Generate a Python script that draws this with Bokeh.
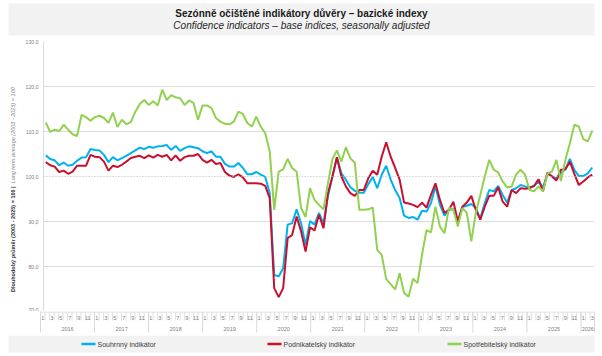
import math
from bokeh.plotting import figure
from bokeh.models import FixedTicker, Span, Range1d, ColumnDataSource
from bokeh.layouts import column, row
from bokeh.core.properties import value
from bokeh.embed import file_html
from bokeh.resources import INLINE

FONT = "Liberation Sans"

# ---------------- data ----------------
years = ["2016", "2017", "2018", "2019", "2020", "2021", "2022", "2023",
         "2024", "2025", "2026"]
month_labels = ["1", "2", "3", "4", "5", "6", "7", "8", "9", "10", "11", "12"]

souhrnny = [
    104.7, 103.9, 103.6, 102.5, 103.1, 102.4, 102.6, 103.5, 104.2, 104.3, 106.1, 105.9,
    105.8, 104.8, 103.2, 104.3, 103.6, 104.1, 104.6, 105.2, 105.8, 106.4, 106.1, 106.6,
    106.4, 106.7, 106.8, 107.0, 105.9, 106.8, 105.7, 106.3, 106.7, 106.5, 106.3, 105.6,
    105.2, 105.6, 104.4, 104.4, 102.8, 102.2, 102.2, 103.0, 101.9, 100.5, 100.5, 101.0,
    100.4, 99.9, 96.3, 78.1, 77.8, 79.6, 89.3, 89.6, 92.7, 89.6, 84.8, 90.1,
    89.3, 91.9, 89.5, 95.6, 100.0, 104.3, 100.7, 99.3, 97.6, 96.8, 96.4, 96.4,
    98.3, 99.9, 97.4, 100.4, 102.4, 99.3, 97.0, 95.2, 91.3, 90.8, 91.0, 90.4,
    92.4, 92.2, 94.1, 97.8, 93.7, 91.3, 92.6, 92.7, 90.0, 93.2, 93.5, 93.9,
    93.0, 90.7, 94.1, 97.0, 96.7, 97.9, 95.9, 94.2, 97.0, 97.4, 98.1, 97.8,
    97.6, 97.9, 98.9, 97.6, 100.6, 100.1, 99.6, 100.7, 101.6, 103.9, 101.5, 100.1,
    100.1, 100.7, 102.0,
]
podnikatelsky = [
    103.2, 102.5, 102.2, 101.0, 101.3, 100.6, 101.1, 102.4, 102.4, 102.4, 104.8, 104.4,
    104.3, 103.3, 101.3, 102.4, 102.1, 102.6, 103.3, 104.1, 104.4, 104.6, 104.1, 104.7,
    104.2, 104.8, 104.4, 104.8, 103.6, 104.7, 103.5, 104.3, 104.6, 104.6, 105.0, 103.7,
    103.1, 103.7, 102.8, 103.0, 101.0, 100.2, 99.9, 100.5, 99.8, 98.5, 98.5, 98.5,
    98.4, 97.9, 95.2, 75.2, 73.2, 75.2, 86.3, 87.0, 91.1, 87.8, 83.3, 88.7,
    88.0, 91.5, 88.5, 96.3, 100.0, 104.3, 100.0, 97.8, 96.3, 95.7, 97.0, 97.0,
    99.6, 101.3, 100.4, 104.4, 107.6, 104.4, 101.9, 99.3, 94.2, 94.0, 93.7, 93.2,
    94.2, 93.1, 95.9, 98.5, 94.8, 91.9, 92.6, 94.4, 90.0, 93.3, 94.2, 95.7,
    92.6, 90.4, 93.3, 95.7, 95.7, 97.6, 94.4, 93.3, 97.0, 96.3, 97.4, 97.3,
    97.4, 97.9, 99.4, 96.7, 100.9, 100.0, 99.1, 101.5, 101.6, 103.3, 100.6, 98.1,
    98.9, 99.8, 100.4,
]
spotrebitelsky = [
    112.0, 109.9, 110.4, 110.1, 111.5, 110.4, 109.4, 109.0, 113.7, 113.2, 112.4, 113.2,
    113.5, 113.0, 111.9, 114.2, 111.0, 112.6, 111.6, 112.1, 114.4, 116.1, 117.0, 115.9,
    116.7, 115.8, 119.3, 117.0, 118.1, 117.6, 117.4, 115.9, 116.9, 116.3, 112.6, 115.8,
    115.8, 115.2, 113.0, 112.2, 111.7, 111.6, 112.2, 114.4, 113.9, 111.9, 111.1, 113.3,
    111.1, 109.6, 105.6, 92.6, 101.1, 101.6, 103.9, 101.9, 101.1, 93.0, 91.0, 97.4,
    94.8, 93.7, 92.7, 98.5, 103.9, 105.8, 103.3, 106.5, 104.1, 103.0, 92.6, 92.6,
    92.7, 93.1, 83.7, 82.6, 77.2, 76.1, 74.9, 78.5, 74.1, 73.3, 77.3, 76.3,
    82.6, 88.1, 87.6, 93.3, 88.9, 87.4, 93.0, 92.6, 88.9, 93.0, 91.9, 85.6,
    91.9, 95.9, 100.0, 103.7, 101.5, 100.9, 98.9, 97.6, 97.8, 100.4, 101.5, 100.4,
    97.0, 96.7, 97.8, 96.7, 100.7, 101.1, 103.7, 99.0, 103.7, 107.4, 111.5, 111.1,
    108.3, 107.8, 110.2,
]
series_names = ["Souhrnný indikátor", "Podnikatelský indikátor", "Spotřebitelský indikátor"]
series_colors = ["#00b0f0", "#c8102e", "#92d050"]
y_ticks = [70, 80, 90, 100, 110, 120, 130]
y_title_main = "Dlouhodobý průměr (2003 - 2025) = 100 |"
y_title_en = "Long term average (2003 - 2025) = 100"

n = len(souhrnny)
idx = list(range(n))
src = ColumnDataSource(dict(x=idx, s=souhrnny, p=podnikatelsky, c=spotrebitelsky))

W = 602
FRAME_L, FRAME_R = 40, 594          # page x of plot frame
TOP_H = 37                          # header height
FRAME_T, FRAME_B = 41, 311          # page y of plot frame
PXM = (FRAME_R - FRAME_L) / n       # pixels per month
XAX_H = 24                          # x-label strip height
LEG_H = 356 - FRAME_B - XAX_H


def bare(width, height, xr, yr):
    f = figure(width=width, height=height, x_range=xr, y_range=yr,
               x_axis_type=None, y_axis_type=None, min_border=0,
               outline_line_color=None, output_backend="svg", toolbar_location=None)
    return f


# ---------------- header ----------------
hdr = bare(W, TOP_H, Range1d(0, W), Range1d(TOP_H, 0))
hdr.quad(left=8, right=594, top=3, bottom=35, fill_color="#f2f2f2", line_color=None)
hdr.text(x=[301], y=[12.5], text=["Sezónně očištěné indikátory důvěry – bazické indexy"],
         text_font=value(FONT), text_font_size="10px", text_font_style="bold",
         text_align="center", text_baseline="middle", text_color="#1a1a1a")
hdr.text(x=[301], y=[24.5], text=["Confidence indicators – base indices, seasonally adjusted"],
         text_font=value(FONT), text_font_size="10px", text_font_style="italic",
         text_align="center", text_baseline="middle", text_color="#262626")

# ---------------- y title strip ----------------
YT_W = 22
ph = FRAME_B - TOP_H
ytf = bare(YT_W, ph, Range1d(0, YT_W), Range1d(0, ph))
split = FRAME_B - 182   # strip coords (0 = frame bottom)
ytf.text(x=[12], y=[split - 2], text=[y_title_main], angle=math.pi / 2,
         text_font=value(FONT), text_font_size="5.5px", text_font_style="bold",
         text_align="right", text_baseline="middle", text_color="#333333")
ytf.text(x=[12], y=[split + 1], text=[y_title_en], angle=math.pi / 2,
         text_font=value(FONT), text_font_size="5.5px", text_font_style="italic",
         text_align="left", text_baseline="middle", text_color="#808080")

# ---------------- main plot ----------------
xr = Range1d(-0.5, n - 0.5)
p = figure(width=W - YT_W, height=ph, x_range=xr, y_range=Range1d(70, 130),
           x_axis_type=None, min_border_left=FRAME_L - YT_W, min_border_right=W - FRAME_R,
           min_border_top=FRAME_T - TOP_H, min_border_bottom=0, outline_line_color=None,
           output_backend="svg", toolbar_location=None)

yax = p.yaxis[0]
yax.ticker = FixedTicker(ticks=y_ticks)
yax.major_label_overrides = {t: f"{t:.1f}".replace(".", ",") for t in y_ticks}
yax.axis_line_color = "#d9d9d9"
yax.major_tick_out = 0
yax.major_tick_in = 0
yax.minor_tick_out = 0
yax.minor_tick_in = 0
yax.major_label_standoff = 5
yax.major_label_text_font = FONT
yax.major_label_text_font_size = "5.2px"
yax.major_label_text_color = "#808080"

p.ygrid.ticker = FixedTicker(ticks=[t for t in y_ticks if t not in (70, 100)])
p.ygrid.grid_line_color = "#dcdcdc"
p.ygrid.grid_line_width = 1
p.add_layout(Span(location=100, dimension="width", line_color="#bdbdbd",
                  line_dash="1 2", line_width=1))

for col, color in zip(["s", "p", "c"], series_colors):
    p.line(x="x", y=col, source=src, line_color=color, line_width=2)

# ---------------- x label strip (same month scale as the plot) ----------------
xs_range = Range1d(-0.5 - FRAME_L / PXM, -0.5 + (W - FRAME_L) / PXM)
xa = bare(W, XAX_H, xs_range, Range1d(XAX_H, 0))
xa.segment(x0=[-0.5], x1=[n - 0.5], y0=[0.5], y1=[0.5], line_color="#d9d9d9", line_width=1)
bounds = [i - 0.5 for i in range(n + 1)]
xa.segment(x0=bounds, x1=bounds, y0=[0] * len(bounds), y1=[9] * len(bounds),
           line_color="#e0e0e0", line_width=1)
odd = [i for i in idx if i % 2 == 0]
xa.text(x=odd, y=[6] * len(odd), text=[month_labels[i % 12] for i in odd],
        text_font=value(FONT), text_font_size="5.5px", text_align="center",
        text_baseline="middle", text_color="#808080")
year_bounds = [12 * k - 0.5 for k in range(len(years))] + [n - 0.5]
year_centers = [(a + b) / 2 for a, b in zip(year_bounds[:-1], year_bounds[1:])]
xa.segment(x0=year_bounds, x1=year_bounds, y0=[0] * len(year_bounds),
           y1=[21] * len(year_bounds), line_color="#d9d9d9", line_width=1)
xa.text(x=year_centers, y=[17] * len(years), text=years,
        text_font=value(FONT), text_font_size="5.5px", text_align="center",
        text_baseline="middle", text_color="#808080")

# ---------------- legend ----------------
lg = bare(W, LEG_H, Range1d(0, W), Range1d(LEG_H, 0))
lg.quad(left=8, right=594, top=0, bottom=LEG_H - 4, fill_color="#f2f2f2", line_color=None)
key_x = [81, 267, 447]
ly = (LEG_H - 4) / 2
lg.segment(x0=key_x, x1=[k + 14 for k in key_x], y0=[ly] * 3, y1=[ly] * 3,
           line_color=series_colors, line_width=2.5)
lg.text(x=[k + 16 for k in key_x], y=[ly] * 3, text=series_names,
        text_font=value(FONT), text_font_size="7px", text_align="left",
        text_baseline="middle", text_color="#404040")

layout = column(hdr, row(ytf, p, spacing=0), xa, lg, spacing=0)
open("out.html", "w").write(file_html(layout, INLINE))
